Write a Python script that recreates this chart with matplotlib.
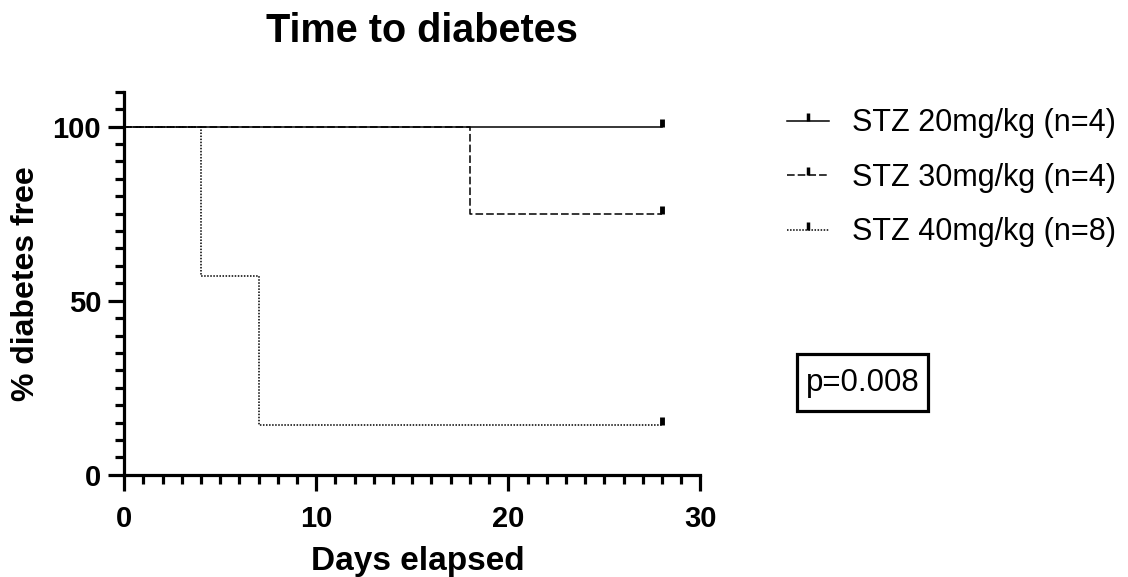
import matplotlib
matplotlib.use('Agg')
from matplotlib import pyplot as plt
from matplotlib.path import Path
from matplotlib.lines import Line2D
from matplotlib.patches import Rectangle
from matplotlib.ticker import MultipleLocator

plt.rcParams['font.family'] = ['Liberation Sans', 'DejaVu Sans']

labels = ['STZ 20mg/kg (n=4)', 'STZ 30mg/kg (n=4)', 'STZ 40mg/kg (n=8)']
# survival curves (days, % diabetes free)
t20 = [0, 28]
s20 = [100, 100]
t30 = [0, 18, 28]
s30 = [100, 75, 75]
t40 = [0, 4, 7, 28]
s40 = [100, 57.14, 14.29, 14.29]
# censored points
cens_t = [28, 28, 28]
cens_s = [100, 75, 14.29]
p_text = 'p=0.008'

styles = ['-', (0, (5, 2)), (0, (1, 1))]
lw = 1.1

# censor tick: short vertical mark going up from the curve
censor = Path([(0, 0), (0, 1)])

fig = plt.figure(figsize=(11.28, 5.77), dpi=100)
ax = fig.add_axes([0.110, 0.177, 0.511, 0.664])

for (t, s), ls in zip([(t20, s20), (t30, s30), (t40, s40)], styles):
    ax.step(t, s, where='post', color='black', lw=lw, linestyle=ls)
for t, s in zip(cens_t, cens_s):
    ax.plot([t], [s], marker=censor, color='black', markersize=11,
            markeredgewidth=3.5, linestyle='none')

ax.set_xlim(0, 30)
ax.set_ylim(0, 110)
ax.xaxis.set_major_locator(MultipleLocator(10))
ax.xaxis.set_minor_locator(MultipleLocator(1))
ax.yaxis.set_major_locator(MultipleLocator(50))
ax.yaxis.set_minor_locator(MultipleLocator(5))
for side in ['top', 'right']:
    ax.spines[side].set_visible(False)
for side in ['left', 'bottom']:
    ax.spines[side].set_linewidth(2.3)
ax.tick_params(which='major', length=11.5, width=2.3, labelsize=21)
ax.tick_params(which='minor', length=6.5, width=2.3)
ax.tick_params(axis='x', which='major', pad=10)
ax.tick_params(axis='y', which='major', pad=5)
for lab in ax.get_xticklabels() + ax.get_yticklabels():
    lab.set_fontweight('bold')

ax.set_xlabel('Days elapsed', fontsize=24, fontweight='bold')
ax.set_ylabel('% diabetes free', fontsize=23, fontweight='bold')
ax.xaxis.set_label_coords(0.51, -0.185)
ax.yaxis.set_label_coords(-0.145, 0.5)
fig.text(0.374, 0.927, 'Time to diabetes', fontsize=28.5, fontweight='bold',
         ha='center', va='baseline')

handles = [Line2D([], [], color='black', lw=lw, linestyle=ls, marker=censor,
                  markersize=11, markeredgewidth=2.5) for ls in styles]
fig.legend(handles, labels, loc='upper left', bbox_to_anchor=(0.6977, 0.812),
           frameon=False, fontsize=22, handlelength=1.37, handletextpad=0.75,
           labelspacing=0.8, borderpad=0, borderaxespad=0)

fig.text(0.7646, 0.337, p_text, fontsize=22.5, ha='center', va='center')
fig.add_artist(Rectangle((797 / 1128, 1 - 411 / 577), 131 / 1128, 57 / 577,
                         transform=fig.transFigure, fill=False, ec='black', lw=2.3))

fig.savefig('out.png', dpi=100)
